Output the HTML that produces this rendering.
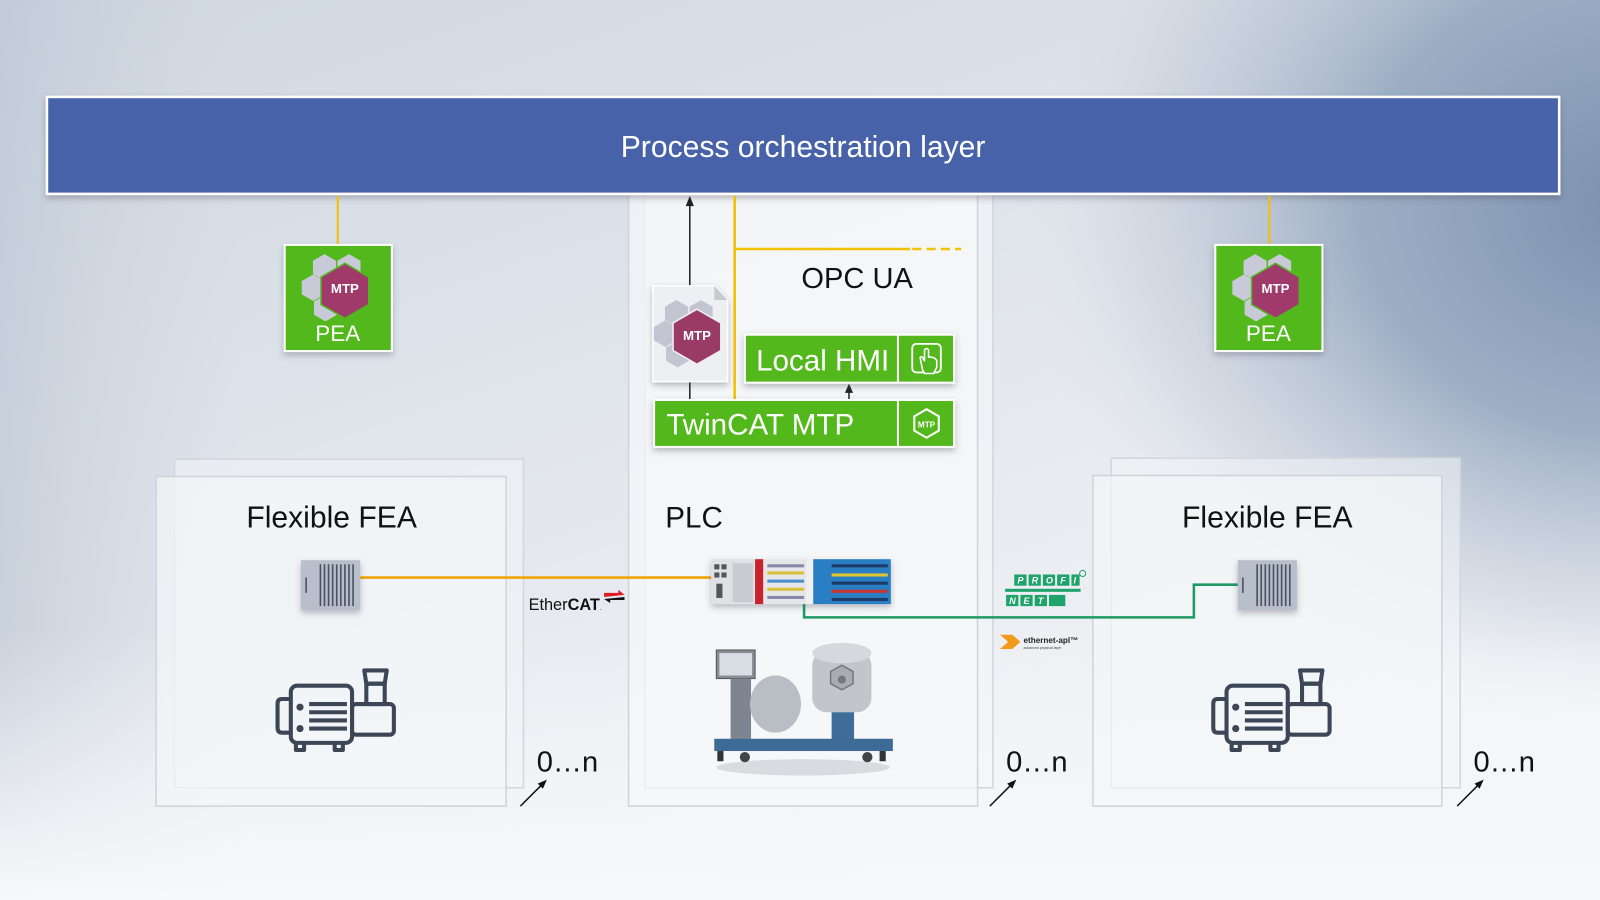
<!DOCTYPE html>
<html><head><meta charset="utf-8">
<style>
html,body{margin:0;padding:0;width:1600px;height:900px;overflow:hidden}
svg{display:block}
text{font-family:"Liberation Sans",sans-serif}
</style></head>
<body>
<svg width="1600" height="900" viewBox="0 0 1568 882" preserveAspectRatio="none" xmlns="http://www.w3.org/2000/svg">
<defs>
<linearGradient id="bg" x1="0" y1="0" x2="0.6" y2="1">
<stop offset="0" stop-color="#cfd7e1"/>
<stop offset="0.55" stop-color="#e3e7ed"/>
<stop offset="1" stop-color="#f4f5f8"/>
</linearGradient>
<linearGradient id="lft" x1="0" y1="0" x2="1" y2="0">
<stop offset="0" stop-color="#b9c4d2" stop-opacity="0.6"/>
<stop offset="0.15" stop-color="#c8d0db" stop-opacity="0"/>
</linearGradient>
<radialGradient id="bg2" gradientUnits="userSpaceOnUse" cx="1600" cy="200" r="600" gradientTransform="translate(1600 200) scale(1 0.85) translate(-1600 -200)">
<stop offset="0" stop-color="#7a90ae" stop-opacity="1"/>
<stop offset="0.45" stop-color="#91a4bd" stop-opacity="0.85"/>
<stop offset="0.8" stop-color="#b7c3d2" stop-opacity="0.35"/>
<stop offset="1" stop-color="#dfe5ec" stop-opacity="0"/>
</radialGradient>
<linearGradient id="bot" x1="0" y1="0" x2="0" y2="1">
<stop offset="0.7" stop-color="#f4f6f9" stop-opacity="0"/>
<stop offset="1" stop-color="#f7f8fa" stop-opacity="1"/>
</linearGradient>
<filter id="sh" x="-20%" y="-20%" width="140%" height="160%"><feDropShadow dx="0" dy="3" stdDeviation="3" flood-color="#445" flood-opacity="0.35"/></filter>
</defs>
<rect width="1568" height="882" fill="url(#bg)"/>
<rect width="1568" height="882" fill="url(#lft)"/>
<rect width="1568" height="882" fill="url(#bg2)"/>
<rect width="1568" height="882" fill="url(#bot)"/>

<!-- panels -->
<rect x="632" y="190" width="341" height="582" fill="#f4f6f9" fill-opacity="0.65" stroke="#d2d7de" stroke-width="1.5"/>
<rect x="616" y="190" width="342" height="600" fill="#f7f8fa" fill-opacity="0.7" stroke="#cfd4db" stroke-width="1.5"/>
<rect x="171" y="450" width="342" height="322" fill="#f2f4f7" fill-opacity="0.55" stroke="#d2d7de" stroke-width="1.5"/>
<rect x="153" y="467" width="343" height="323" fill="#f4f6f8" fill-opacity="0.7" stroke="#cfd4db" stroke-width="1.5"/>
<rect x="1089" y="449" width="342" height="323" fill="#f2f4f7" fill-opacity="0.55" stroke="#d2d7de" stroke-width="1.5"/>
<rect x="1071" y="466" width="342" height="324" fill="#f4f6f8" fill-opacity="0.7" stroke="#cfd4db" stroke-width="1.5"/>

<!-- top bar -->
<rect x="46" y="95" width="1482" height="95" fill="#4762a9" stroke="#ffffff" stroke-width="2.5" filter="url(#sh)"/>
<text x="787" y="154" font-size="29.5" fill="#ffffff" text-anchor="middle">Process orchestration layer</text>

<!-- yellow lines -->
<line x1="331" y1="192" x2="331" y2="240" stroke="#f2c200" stroke-width="2"/>
<line x1="1244" y1="192" x2="1244" y2="240" stroke="#f2c200" stroke-width="2"/>
<line x1="720" y1="192" x2="720" y2="392" stroke="#f2c200" stroke-width="2.5"/>
<line x1="720" y1="244" x2="892" y2="244" stroke="#f2c200" stroke-width="2.5"/>
<line x1="894" y1="244" x2="942" y2="244" stroke="#f2c200" stroke-width="2.5" stroke-dasharray="9,5"/>

<!-- black arrows -->
<line x1="676" y1="200" x2="676" y2="392" stroke="#222" stroke-width="1.5"/>
<polygon points="676,192 672,202 680,202" fill="#222"/>
<line x1="832" y1="384" x2="832" y2="392" stroke="#222" stroke-width="1.5"/>
<polygon points="832,376 828,385 836,385" fill="#222"/>

<!-- PEA left -->
<g>
<rect x="279" y="240" width="105" height="104" fill="#52b81f" stroke="#fff" stroke-width="2" filter="url(#sh)"/>
<polygon points="318,249 329.3,255.5 329.3,268.5 318,275 306.7,268.5 306.7,255.5" fill="#c9cad8"/>
<polygon points="342,249 353.3,255.5 353.3,268.5 342,275 330.7,268.5 330.7,255.5" fill="#c9cad8"/>
<polygon points="307,269 318.3,275.5 318.3,288.5 307,295 295.7,288.5 295.7,275.5" fill="#c9cad8"/>
<polygon points="319,289 330.3,295.5 330.3,308.5 319,315 307.7,308.5 307.7,295.5" fill="#c9cad8"/>
<polygon points="338,258 361.4,271.5 361.4,298.5 338,312 314.6,298.5 314.6,271.5" fill="#a03a6b" stroke="#52b81f" stroke-width="1.5"/>
<text x="338" y="287" font-size="13" font-weight="bold" fill="#fff" text-anchor="middle">MTP</text>
<text x="331" y="334" font-size="22" fill="#fff" text-anchor="middle">PEA</text>
</g>
<!-- PEA right -->
<g transform="translate(912,0)">
<rect x="279" y="240" width="105" height="104" fill="#52b81f" stroke="#fff" stroke-width="2" filter="url(#sh)"/>
<polygon points="318,249 329.3,255.5 329.3,268.5 318,275 306.7,268.5 306.7,255.5" fill="#c9cad8"/>
<polygon points="342,249 353.3,255.5 353.3,268.5 342,275 330.7,268.5 330.7,255.5" fill="#c9cad8"/>
<polygon points="307,269 318.3,275.5 318.3,288.5 307,295 295.7,288.5 295.7,275.5" fill="#c9cad8"/>
<polygon points="319,289 330.3,295.5 330.3,308.5 319,315 307.7,308.5 307.7,295.5" fill="#c9cad8"/>
<polygon points="338,258 361.4,271.5 361.4,298.5 338,312 314.6,298.5 314.6,271.5" fill="#a03a6b" stroke="#52b81f" stroke-width="1.5"/>
<text x="338" y="287" font-size="13" font-weight="bold" fill="#fff" text-anchor="middle">MTP</text>
<text x="331" y="334" font-size="22" fill="#fff" text-anchor="middle">PEA</text>
</g>

<!-- MTP document -->
<path d="M640,280 L700,280 L713,294 L713,374 L640,374 Z" fill="#eeeff2" stroke="#fff" stroke-width="1.5" filter="url(#sh)"/>
<path d="M700,280 L700,294 L713,294 Z" fill="#c8cad0"/>
<g transform="translate(345,45)">
<polygon points="318,249 329.3,255.5 329.3,268.5 318,275 306.7,268.5 306.7,255.5" fill="#c4c5d2"/>
<polygon points="342,249 353.3,255.5 353.3,268.5 342,275 330.7,268.5 330.7,255.5" fill="#c4c5d2"/>
<polygon points="307,269 318.3,275.5 318.3,288.5 307,295 295.7,288.5 295.7,275.5" fill="#c4c5d2"/>
<polygon points="319,289 330.3,295.5 330.3,308.5 319,315 307.7,308.5 307.7,295.5" fill="#c4c5d2"/>
<polygon points="338,258 361.4,271.5 361.4,298.5 338,312 314.6,298.5 314.6,271.5" fill="#9a3a66" stroke="#eeeff2" stroke-width="1.5"/>
<text x="338" y="288" font-size="13" font-weight="bold" fill="#fff" text-anchor="middle">MTP</text>
</g>

<!-- OPC UA -->
<text x="840" y="282" font-size="28.5" fill="#111" text-anchor="middle">OPC UA</text>

<!-- Local HMI -->
<rect x="730" y="328" width="205" height="47" fill="#52b81f" stroke="#fff" stroke-width="2" filter="url(#sh)"/>
<line x1="880" y1="328" x2="880" y2="375" stroke="#fff" stroke-width="2"/>
<text x="741" y="363" font-size="29" fill="#fff">Local HMI</text>
<rect x="894" y="337" width="28" height="28" rx="4" fill="none" stroke="#fff" stroke-width="1.8"/>
<path d="M904,362 L902,352 Q901,349 904,350 L906,354 L906,343 Q908,340 910,343 L910,350 L913,350 L916,351 L918,353 L918,360 L915,366 L906,366 Z" fill="#52b81f" stroke="#fff" stroke-width="1.5"/>
<!-- TwinCAT MTP -->
<rect x="641" y="392" width="294" height="46" fill="#52b81f" stroke="#fff" stroke-width="2" filter="url(#sh)"/>
<line x1="880" y1="392" x2="880" y2="438" stroke="#fff" stroke-width="2"/>
<text x="653" y="426" font-size="29" fill="#fff">TwinCAT MTP</text>
<polygon points="908,401 920,408 920,422 908,429 896,422 896,408" fill="none" stroke="#fff" stroke-width="2"/>
<text x="908" y="419" font-size="8" font-weight="bold" fill="#fff" text-anchor="middle">MTP</text>

<!-- labels -->
<text x="325" y="517" font-size="29.5" fill="#111" text-anchor="middle">Flexible FEA</text>
<text x="1242" y="517" font-size="29.5" fill="#111" text-anchor="middle">Flexible FEA</text>
<text x="652" y="517" font-size="29" fill="#111">PLC</text>

<!-- orange line -->
<line x1="353" y1="566" x2="700" y2="566" stroke="#f0a400" stroke-width="2.5"/>
<!-- green line -->
<polyline points="788,575 788,605 1170,605 1170,573 1215,573" fill="none" stroke="#1e9a63" stroke-width="2.5"/>

<!-- FEA devices -->
<g filter="url(#sh)">
<rect x="295" y="549" width="58" height="49" fill="#b8bfcb"/>
<rect x="1213" y="549" width="58" height="49" fill="#b8bfcb"/>
</g>
<g stroke="#4a5364" stroke-width="1.6">
<line x1="300" y1="566" x2="300" y2="581"/>
<line x1="314" y1="553" x2="314" y2="594"/><line x1="318" y1="553" x2="318" y2="594"/><line x1="322" y1="553" x2="322" y2="594"/><line x1="326" y1="553" x2="326" y2="594"/><line x1="330" y1="553" x2="330" y2="594"/><line x1="334" y1="553" x2="334" y2="594"/><line x1="338" y1="553" x2="338" y2="594"/><line x1="342" y1="553" x2="342" y2="594"/><line x1="346" y1="553" x2="346" y2="594"/>
<line x1="1218" y1="566" x2="1218" y2="581"/>
<line x1="1232" y1="553" x2="1232" y2="594"/><line x1="1236" y1="553" x2="1236" y2="594"/><line x1="1240" y1="553" x2="1240" y2="594"/><line x1="1244" y1="553" x2="1244" y2="594"/><line x1="1248" y1="553" x2="1248" y2="594"/><line x1="1252" y1="553" x2="1252" y2="594"/><line x1="1256" y1="553" x2="1256" y2="594"/><line x1="1260" y1="553" x2="1260" y2="594"/><line x1="1264" y1="553" x2="1264" y2="594"/>
</g>

<!-- PLC device -->
<g filter="url(#sh)">
<rect x="697" y="548" width="43" height="44" fill="#dfe1e5"/>
<rect x="740" y="548" width="8" height="44" fill="#c8202a"/>
<rect x="748" y="548" width="42" height="44" fill="#e4e6e8"/>
<rect x="790" y="548" width="7" height="44" fill="#f0f0f0"/>
<rect x="797" y="548" width="76" height="44" fill="#2b7fc4"/>
</g>
<g fill="#555"><rect x="700" y="553" width="5" height="5"/><rect x="707" y="553" width="5" height="5"/><rect x="700" y="561" width="5" height="5"/><rect x="707" y="561" width="5" height="5"/><rect x="702" y="572" width="6" height="14"/></g>
<rect x="718" y="552" width="20" height="38" fill="#c9cbd0"/>
<g fill="#88a"><rect x="752" y="553" width="36" height="3"/><rect x="752" y="560" width="36" height="3" fill="#d9c23a"/><rect x="752" y="568" width="36" height="3" fill="#4c8fd0"/><rect x="752" y="576" width="36" height="3" fill="#d9c23a"/><rect x="752" y="584" width="36" height="3"/></g>
<g fill="#1d3a66"><rect x="815" y="553" width="55" height="3"/><rect x="815" y="562" width="55" height="3" fill="#e2c630"/><rect x="815" y="570" width="55" height="3"/><rect x="815" y="578" width="55" height="3" fill="#c33"/><rect x="815" y="586" width="55" height="3"/></g>

<!-- EtherCAT -->
<text x="518" y="598" font-size="16" fill="#111">Ether<tspan font-weight="bold">CAT</tspan><tspan font-size="6">.</tspan></text>
<polygon points="592,581 606,581 606,578 612,583 592,585" fill="#e01b22"/>
<polygon points="612,588 598,588 598,591 592,587 612,585" fill="#111"/>

<!-- PROFINET -->
<g fill="#1ea36a">
<rect x="994" y="563" width="12" height="11"/><rect x="1008" y="563" width="12" height="11"/><rect x="1022" y="563" width="12" height="11"/><rect x="1036" y="563" width="12" height="11"/><rect x="1050" y="563" width="8" height="11"/>
<rect x="985" y="577" width="74" height="3"/>
<rect x="986" y="583" width="12" height="11"/><rect x="1000" y="583" width="12" height="11"/><rect x="1014" y="583" width="12" height="11"/><rect x="1028" y="583" width="16" height="11"/>
</g>
<g font-size="9" font-weight="bold" fill="#fff" font-style="italic"><text x="997" y="572">P</text><text x="1011" y="572">R</text><text x="1025" y="572">O</text><text x="1039" y="572">F</text><text x="1052" y="572">I</text><text x="989" y="592">N</text><text x="1003" y="592">E</text><text x="1017" y="592">T</text></g>
<circle cx="1061" cy="562" r="3" fill="none" stroke="#1ea36a" stroke-width="1"/>

<!-- ethernet-apl -->
<polygon points="980,622 992,622 1000,629 992,636 980,636 988,629" fill="#f29a1a"/>
<text x="1003" y="630" font-size="8" font-weight="bold" fill="#222">ethernet-apl™</text>
<text x="1003" y="636" font-size="3.5" fill="#444">advanced physical layer</text>

<!-- machine -->
<g>
<ellipse cx="787" cy="752" rx="85" ry="8" fill="#c5c9cf" opacity="0.6"/>
<rect x="702" y="637" width="38" height="28" fill="#888d94" stroke="#555" stroke-width="1"/>
<rect x="705" y="640" width="32" height="22" fill="#d7dde3"/>
<rect x="716" y="665" width="20" height="60" fill="#7c8590"/>
<ellipse cx="760" cy="690" rx="25" ry="28" fill="#b9bec4"/>
<rect x="796" y="638" width="58" height="60" rx="14" fill="#c2c6cb"/>
<ellipse cx="825" cy="640" rx="29" ry="10" fill="#d5d8dc"/>
<polygon points="825,652 836,658 836,670 825,676 814,670 814,658" fill="#a8adb3" stroke="#777" stroke-width="1.5"/>
<circle cx="825" cy="666" r="4" fill="#777"/>
<rect x="815" y="698" width="22" height="30" fill="#3d6d98"/>
<rect x="700" y="724" width="175" height="12" fill="#3e6b96"/>
<rect x="703" y="736" width="6" height="10" fill="#333"/><rect x="862" y="736" width="6" height="10" fill="#333"/>
<circle cx="730" cy="742" r="5" fill="#444"/><circle cx="850" cy="742" r="5" fill="#444"/>
</g>

<!-- pumps -->
<g fill="none" stroke="#3d4656" stroke-width="4" stroke-linejoin="round">
<g>
<rect x="285" y="672" width="60" height="56" rx="6"/>
<path d="M285,685 L276,685 Q272,685 272,690 L272,713 Q272,718 276,718 L285,718"/>
<rect x="345" y="690" width="41" height="30" rx="4"/>
<rect x="359" y="670" width="18" height="20"/>
<path d="M357,657 L379,657 L377,670 L359,670 Z"/>
<line x1="303" y1="690" x2="340" y2="690"/><line x1="303" y1="698" x2="340" y2="698"/><line x1="303" y1="706" x2="340" y2="706"/><line x1="303" y1="714" x2="340" y2="714"/>
<path d="M290,728 L290,735 L298,735 L298,728 M328,728 L328,735 L336,735 L336,728"/>
</g>
<g transform="translate(917,0)">
<rect x="285" y="672" width="60" height="56" rx="6"/>
<path d="M285,685 L276,685 Q272,685 272,690 L272,713 Q272,718 276,718 L285,718"/>
<rect x="345" y="690" width="41" height="30" rx="4"/>
<rect x="359" y="670" width="18" height="20"/>
<path d="M357,657 L379,657 L377,670 L359,670 Z"/>
<line x1="303" y1="690" x2="340" y2="690"/><line x1="303" y1="698" x2="340" y2="698"/><line x1="303" y1="706" x2="340" y2="706"/><line x1="303" y1="714" x2="340" y2="714"/>
<path d="M290,728 L290,735 L298,735 L298,728 M328,728 L328,735 L336,735 L336,728"/>
</g>
</g>
<g fill="#3d4656"><circle cx="294" cy="693" r="3.5"/><circle cx="294" cy="714" r="3.5"/><circle cx="1211" cy="693" r="3.5"/><circle cx="1211" cy="714" r="3.5"/></g>

<!-- 0...n -->
<g font-size="28.5" fill="#111">
<text x="526" y="756">0…n</text>
<text x="986" y="756">0…n</text>
<text x="1444" y="756">0…n</text>
</g>
<g stroke="#111" stroke-width="1.5">
<line x1="510" y1="790" x2="531" y2="769"/>
<line x1="970" y1="790" x2="991" y2="769"/>
<line x1="1428" y1="790" x2="1449" y2="769"/>
</g>
<g fill="#111">
<polygon points="536,764 527,768 532,773"/>
<polygon points="996,764 987,768 992,773"/>
<polygon points="1454,764 1445,768 1450,773"/>
</g>
</svg>
</body></html>
